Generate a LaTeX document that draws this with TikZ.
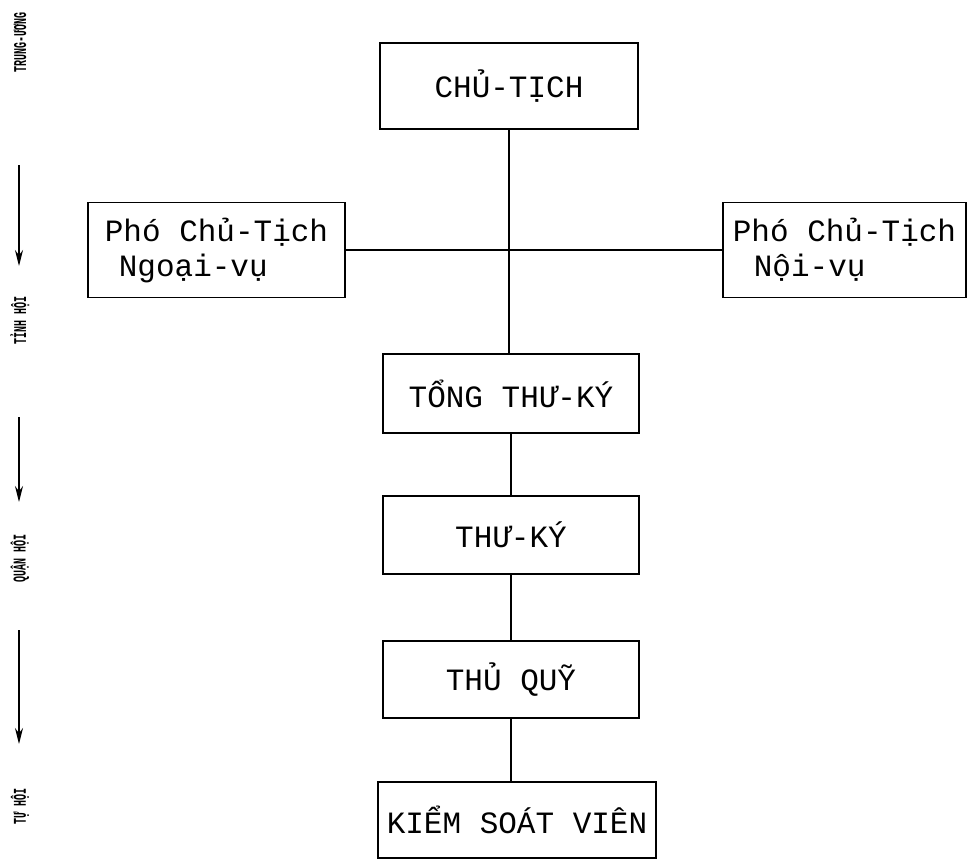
\documentclass[tikz,border=0pt]{standalone}
\usepackage{fontspec}
\newfontfamily\tw{Liberation Mono}
\usetikzlibrary{arrows.meta}
\newcommand{\tallbox}[1]{\scalebox{1}[1.8]{#1}}
\tikzset{
  box/.style={draw=black, line width=1.3pt, inner sep=0pt, font=\tw\fontsize{31}{35}\selectfont, text=black},
  lab/.style={rotate=90, inner sep=0pt, font=\tw\bfseries\fontsize{10}{12}\selectfont},
  conn/.style={draw=black, line width=1.4pt},
  downarrow/.style={draw=black, line width=1.5pt, -{Stealth[length=16pt,width=8pt]}}
}
\begin{document}
\begin{tikzpicture}[x=1pt,y=-1pt]
\useasboundingbox (0,0) rectangle (967,863);
% main boxes
\node[box, minimum width=258pt, minimum height=86pt] (ct) at (509,86) {CHỦ-TỊCH};
\node[box, minimum width=257pt, minimum height=95pt, align=left] (pl) at (216.5,250) {Phó Chủ-Tịch\\\hspace*{14pt}Ngoại-vụ};
\node[box, minimum width=243pt, minimum height=95pt, align=left] (pr) at (844.5,250) {Phó Chủ-Tịch\\\hspace*{21pt}Nội-vụ};
\node[box, minimum width=256pt, minimum height=79pt] (tt) at (511,393.5) {TỔNG THƯ-KÝ};
\node[box, minimum width=256pt, minimum height=78pt] (tk) at (511,535) {THƯ-KÝ};
\node[box, minimum width=256pt, minimum height=77pt] (tq) at (511,679.5) {THỦ QUỸ};
\node[box, minimum width=278pt, minimum height=76pt] (ks) at (517,820) {KIỂM SOÁT VIÊN};
% connectors
\draw[conn] (ct.south) -- (ct.south |- tt.north);
\draw[conn] (pl.east) -- (pr.west);
\draw[conn] (tt.south) -- (tk.north);
\draw[conn] (tk.south) -- (tq.north);
\draw[conn] (tq.south) -- (tq.south |- ks.north);
% left level labels
\node[lab] (l1) at (20,42) {\tallbox{TRUNG-ƯƠNG}};
\node[lab] (l2) at (20,320) {\tallbox{TỈNH HỘI}};
\node[lab] (l3) at (20,558) {\tallbox{QUẬN HỘI}};
\node[lab] (l4) at (20,806) {\tallbox{TỰ HỘI}};
\coordinate (a1s) at (19,165);
\coordinate (a1e) at (19,266);
\coordinate (a2s) at (19,417);
\coordinate (a2e) at (19,502);
\coordinate (a3s) at (19,630);
\coordinate (a3e) at (19,744);
\draw[downarrow] (a1s) -- (a1e);
\draw[downarrow] (a2s) -- (a2e);
\draw[downarrow] (a3s) -- (a3e);
\end{tikzpicture}
\end{document}
